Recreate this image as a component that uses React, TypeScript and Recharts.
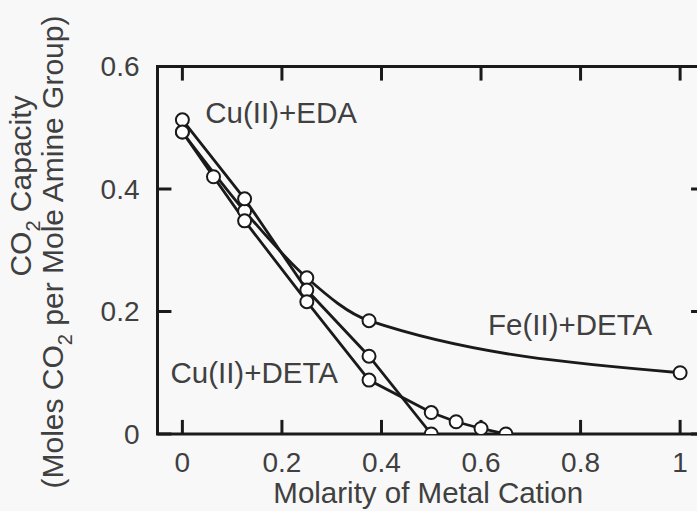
import React from "react";
import {
  LineChart,
  Line,
  XAxis,
  YAxis,
  Label,
  ReferenceDot,
  ReferenceArea,
  ReferenceLine,
} from "recharts";

// molarity of metal cation (x) and CO2 capacity (y) per series
const cuEdaX = [0, 0.125, 0.25, 0.375, 0.5];
const cuEdaY = [0.513, 0.384, 0.235, 0.127, 0];

const cuDetaX = [0, 0.0625, 0.125, 0.25, 0.375, 0.5, 0.55, 0.6, 0.65];
const cuDetaY = [0.493, 0.42, 0.348, 0.216, 0.088, 0.035, 0.02, 0.009, 0];

const feDetaX = [0, 0.125, 0.25, 0.375, 1];
const feDetaY = [0.493, 0.364, 0.255, 0.185, 0.1];

const xTicks = [0, 0.2, 0.4, 0.6, 0.8, 1];
const yTicks = [0, 0.2, 0.4, 0.6];

// series name, anchor (x, y) in data units
const seriesLabels = [
  { text: "Cu(II)+EDA", x: 0.046, y: 0.508 },
  { text: "Fe(II)+DETA", x: 0.614, y: 0.162 },
  { text: "Cu(II)+DETA", x: -0.024, y: 0.083 },
];

const toRows = (xs: number[], ys: number[]) => xs.map((x, i) => ({ x, y: ys[i] }));

const FONT = '"Liberation Sans", Arial, sans-serif';
const INK = "#1a1a1a";
const TEXT = "#404040";

const X_MIN = -0.05;
const X_MAX = 1.05;
const Y_MIN = 0;
const Y_MAX = 0.6;
// inward tick length (~14px) in axis units
const TICK_Y = 0.023;
const TICK_X = 0.028;

const dot = { r: 6.5, fill: "#ffffff", stroke: INK, strokeWidth: 2 };
const fmt = (v: number) => (v === 0 || v === 1 ? String(v) : v.toFixed(1));

function YTitle() {
  const c1 = 186;
  const c2 = 252;
  return (
    <g fontFamily={FONT} fontSize={30} fill={TEXT}>
      <text x={31} y={c1} textAnchor="middle" transform={`rotate(-90 31 ${c1})`}>
        CO<tspan dy={9} fontSize={20}>2</tspan>
        <tspan dy={-9}> Capacity</tspan>
      </text>
      <text x={63} y={c2} textAnchor="middle" transform={`rotate(-90 63 ${c2})`}>
        (Moles CO<tspan dy={9} fontSize={20}>2</tspan>
        <tspan dy={-9}> per Mole Amine Group)</tspan>
      </text>
    </g>
  );
}

function XTitle(props: any) {
  const vb = props.viewBox || { x: 0, y: 0, width: 0, height: 0 };
  return (
    <text
      x={vb.x + vb.width / 2 - 3}
      y={vb.y + 69}
      textAnchor="middle"
      fontFamily={FONT}
      fontSize={29.5}
      fill={TEXT}
    >
      Molarity of Metal Cation
    </text>
  );
}

function SeriesLabel({ viewBox, text }: any) {
  return (
    <text x={viewBox.x} y={viewBox.y} fontFamily={FONT} fontSize={29.5} fill={TEXT}>
      {text}
    </text>
  );
}

export default function App() {
  const tickStyle = { fontFamily: FONT, fontSize: 28, fill: TEXT };
  const tickProps = { xAxisId: "b", yAxisId: "l", stroke: INK, strokeWidth: 3, ifOverflow: "visible" as const };

  return (
    <div style={{ width: 697, height: 511, overflow: "hidden", background: "#f8f8f8" }}>
      <style>{`body{margin:0;background:#f8f8f8}`}</style>
      <LineChart
        width={730}
        height={511}
        margin={{ top: 66.5, right: 25, bottom: 0, left: 0 }}
      >
        <XAxis
          xAxisId="b"
          dataKey="x"
          type="number"
          domain={[X_MIN, X_MAX]}
          ticks={xTicks}
          tickFormatter={fmt}
          allowDataOverflow
          height={77}
          tickLine={false}
          axisLine={false}
          tickMargin={12}
          tick={tickStyle}
        >
          <Label content={XTitle} />
        </XAxis>
        <YAxis
          yAxisId="l"
          type="number"
          domain={[Y_MIN, Y_MAX]}
          ticks={yTicks}
          tickFormatter={fmt}
          allowDataOverflow
          width={157.5}
          tickLine={false}
          axisLine={false}
          tickMargin={12}
          tick={tickStyle}
        >
          <Label content={YTitle} />
        </YAxis>

        {/* closed frame */}
        <ReferenceArea
          xAxisId="b"
          yAxisId="l"
          x1={X_MIN}
          x2={X_MAX}
          y1={Y_MIN}
          y2={Y_MAX}
          fill="none"
          stroke={INK}
          strokeWidth={3}
          ifOverflow="visible"
        />

        {/* inward ticks on all four sides */}
        {xTicks.map((t) => (
          <ReferenceLine key={`b${t}`} {...tickProps} segment={[{ x: t, y: Y_MIN }, { x: t, y: Y_MIN + TICK_Y }]} />
        ))}
        {xTicks.map((t) => (
          <ReferenceLine key={`t${t}`} {...tickProps} segment={[{ x: t, y: Y_MAX }, { x: t, y: Y_MAX - TICK_Y }]} />
        ))}
        {yTicks.map((t) => (
          <ReferenceLine key={`l${t}`} {...tickProps} segment={[{ x: X_MIN, y: t }, { x: X_MIN + TICK_X, y: t }]} />
        ))}
        {yTicks.map((t) => (
          <ReferenceLine key={`r${t}`} {...tickProps} segment={[{ x: X_MAX, y: t }, { x: X_MAX - TICK_X, y: t }]} />
        ))}

        <Line
          xAxisId="b"
          yAxisId="l"
          data={toRows(feDetaX, feDetaY)}
          dataKey="y"
          type="monotone"
          stroke={INK}
          strokeWidth={2.8}
          dot={dot}
          isAnimationActive={false}
        />
        <Line
          xAxisId="b"
          yAxisId="l"
          data={toRows(cuEdaX, cuEdaY)}
          dataKey="y"
          type="linear"
          stroke={INK}
          strokeWidth={2.8}
          dot={dot}
          isAnimationActive={false}
        />
        <Line
          xAxisId="b"
          yAxisId="l"
          data={toRows(cuDetaX, cuDetaY)}
          dataKey="y"
          type="linear"
          stroke={INK}
          strokeWidth={2.8}
          dot={dot}
          isAnimationActive={false}
        />

        {seriesLabels.map((s) => (
          <ReferenceDot
            key={s.text}
            xAxisId="b"
            yAxisId="l"
            x={s.x}
            y={s.y}
            r={0}
            fill="none"
            stroke="none"
            label={(p: any) => <SeriesLabel {...p} text={s.text} />}
          />
        ))}
      </LineChart>
    </div>
  );
}
